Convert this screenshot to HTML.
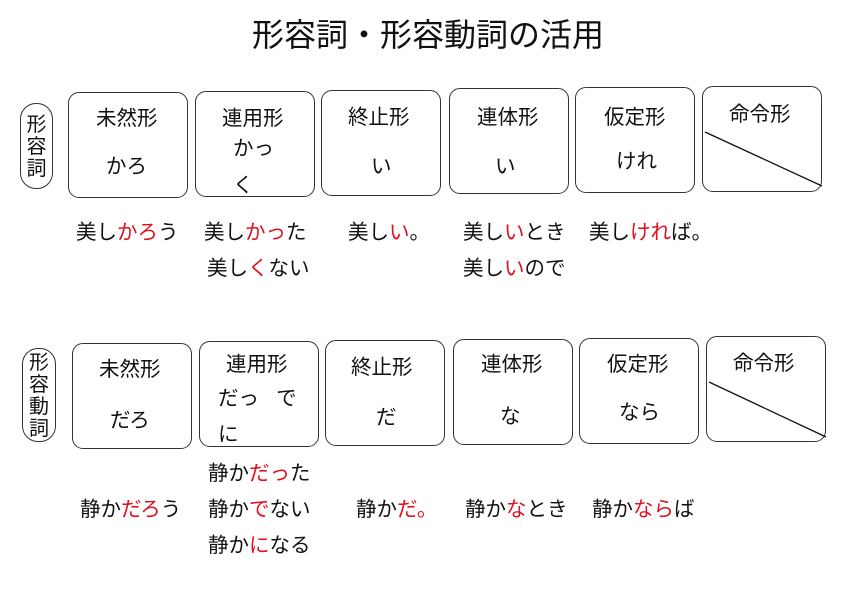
<!DOCTYPE html>
<html><head><meta charset="utf-8"><style>
body{margin:0;width:842px;height:595px;background:#fff;position:relative;overflow:hidden;font-family:"Liberation Sans","Noto Sans CJK JP",sans-serif;color:#111}
.t{position:absolute;font-size:20.5px;line-height:20px;white-space:nowrap;transform:translateY(3px)}
.b{position:absolute;width:118px;height:104px;border:1.5px solid #333;border-radius:11px;box-sizing:content-box}
.p{position:absolute;border:1.5px solid #333;border-radius:16px;font-size:20px;line-height:22px;text-align:center}
.r{color:#e0101e}
</style></head><body>
<div class="t" style="left:252px;top:16px;font-size:32px;line-height:32px">形容詞・形容動詞の活用</div>

<div class="p" style="left:20px;top:103px;width:31px;height:84px;padding-top:0"><div style="margin-top:10px">形<br>容<br>詞</div></div>
<div class="p" style="left:22px;top:348px;width:32px;height:92px"><div style="margin-top:3px">形<br>容<br>動<br>詞</div></div>

<div class="b" style="left:68px;top:92px"></div>
<div class="b" style="left:195px;top:91px"></div>
<div class="b" style="left:321px;top:90px"></div>
<div class="b" style="left:449px;top:88px"></div>
<div class="b" style="left:575px;top:87px"></div>
<div class="b" style="left:702px;top:86px"></div>

<div class="b" style="left:72px;top:343px"></div>
<div class="b" style="left:199px;top:341px"></div>
<div class="b" style="left:325px;top:340px"></div>
<div class="b" style="left:453px;top:339px"></div>
<div class="b" style="left:579px;top:338px"></div>
<div class="b" style="left:706px;top:336px"></div>

<svg style="position:absolute;left:0;top:0" width="842" height="595"><line x1="705" y1="132" x2="822" y2="186" stroke="#111" stroke-width="1.3"/><line x1="709" y1="382" x2="826" y2="437" stroke="#111" stroke-width="1.3"/></svg>

<div class="t" style="left:96px;top:106px">未然形</div>
<div class="t" style="left:222px;top:106px">連用形</div>
<div class="t" style="left:348px;top:105px">終止形</div>
<div class="t" style="left:477px;top:105px">連体形</div>
<div class="t" style="left:604px;top:105px">仮定形</div>
<div class="t" style="left:729px;top:102px">命令形</div>
<div class="t" style="left:106px;top:154px">かろ</div>
<div class="t" style="left:233px;top:136px">かっ</div>
<div class="t" style="left:233px;top:173px">く</div>
<div class="t" style="left:371px;top:154px">い</div>
<div class="t" style="left:495px;top:154px">い</div>
<div class="t" style="left:616px;top:149px">けれ</div>

<div class="t" style="left:76px;top:220px">美し<span class="r">かろ</span>う</div>
<div class="t" style="left:204px;top:220px">美し<span class="r">かっ</span>た</div>
<div class="t" style="left:207px;top:256px">美し<span class="r">く</span>ない</div>
<div class="t" style="left:348px;top:220px">美し<span class="r">い</span>。</div>
<div class="t" style="left:463px;top:220px">美し<span class="r">い</span>とき</div>
<div class="t" style="left:463px;top:256px">美し<span class="r">い</span>ので</div>
<div class="t" style="left:589px;top:220px">美し<span class="r">けれ</span>ば。</div>

<div class="t" style="left:99px;top:357px">未然形</div>
<div class="t" style="left:226px;top:352px">連用形</div>
<div class="t" style="left:351px;top:355px">終止形</div>
<div class="t" style="left:481px;top:352px">連体形</div>
<div class="t" style="left:607px;top:352px">仮定形</div>
<div class="t" style="left:733px;top:351px">命令形</div>
<div class="t" style="left:110px;top:408px">だろ</div>
<div class="t" style="left:218px;top:386px">だっ&nbsp;&nbsp;&nbsp;で</div>
<div class="t" style="left:218px;top:422px">に</div>
<div class="t" style="left:376px;top:405px">だ</div>
<div class="t" style="left:500px;top:404px">な</div>
<div class="t" style="left:619px;top:400px">なら</div>

<div class="t" style="left:208px;top:461px">静か<span class="r">だっ</span>た</div>
<div class="t" style="left:80px;top:497px">静か<span class="r">だろ</span>う</div>
<div class="t" style="left:208px;top:497px">静か<span class="r">で</span>ない</div>
<div class="t" style="left:208px;top:533px">静か<span class="r">に</span>なる</div>
<div class="t" style="left:356px;top:497px">静か<span class="r">だ。</span></div>
<div class="t" style="left:465px;top:497px">静か<span class="r">な</span>とき</div>
<div class="t" style="left:592px;top:497px">静か<span class="r">なら</span>ば</div>
</body></html>
